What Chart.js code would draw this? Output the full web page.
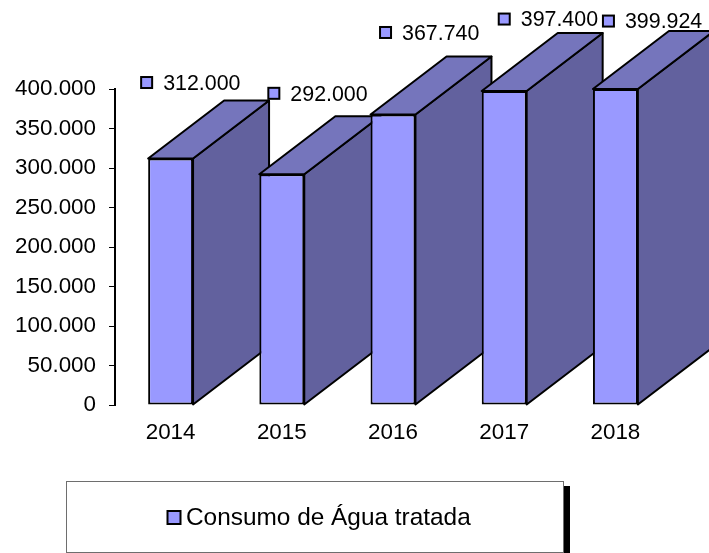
<!DOCTYPE html>
<html>
<head>
<meta charset="utf-8">
<title>Consumo de Água tratada</title>
<script src="https://cdn.jsdelivr.net/npm/chart.js@4"></script>
<style>
    html, body { margin: 0; padding: 0; background: #fff; }
    canvas { display: block; }
</style>
</head>
<body>
<canvas id="waterChart" width="709" height="553"></canvas>
<script>
const years = ['2014', '2015', '2016', '2017', '2018'];
const consumption = [312000, 292000, 367740, 397400, 399924];
const seriesName = 'Consumo de Água tratada';

// hand placed label markers in the original, relative to each bar's top left corner
const labelOffsets = [[-1.5, -76], [14.5, -81], [15, -82], [22.5, -72], [15.5, -68]];

const FONT = '"Liberation Sans", Arial, sans-serif';
const DEPTH_X = 76;
const DEPTH_Y = 58;

function formatThousands(value) {
    return String(value).replace(/\B(?=(\d{3})+$)/g, '.');
}

function fillFace(ctx, points, color) {
    ctx.beginPath();
    points.forEach((p, i) => i ? ctx.lineTo(p[0], p[1]) : ctx.moveTo(p[0], p[1]));
    ctx.closePath();
    ctx.fillStyle = color;
    ctx.fill();
    ctx.stroke();
}

function drawMarker(ctx, cx, cy, size) {
    ctx.fillStyle = '#9999ff';
    ctx.strokeStyle = '#000';
    ctx.lineWidth = 2;
    ctx.fillRect(cx - size / 2, cy - size / 2, size, size);
    ctx.strokeRect(cx - size / 2, cy - size / 2, size, size);
}

// Side and top faces of the 3D columns, painted under the library's bars
const depthFaces = {
    id: 'depthFaces',
    beforeDatasetsDraw(chart) {
        const ctx = chart.ctx;
        ctx.save();
        ctx.strokeStyle = '#000';
        ctx.lineWidth = 2;
        ctx.lineJoin = 'round';
        chart.getDatasetMeta(0).data.forEach(bar => {
            const left = bar.x - bar.width / 2;
            const right = bar.x + bar.width / 2;
            fillFace(ctx, [
                [right, bar.y], [right + DEPTH_X, bar.y - DEPTH_Y],
                [right + DEPTH_X, bar.base - DEPTH_Y], [right, bar.base]
            ], '#62619e');
            fillFace(ctx, [
                [left, bar.y], [left + DEPTH_X, bar.y - DEPTH_Y],
                [right + DEPTH_X, bar.y - DEPTH_Y], [right, bar.y]
            ], '#7575bc');
        });
        ctx.restore();
    },
    afterDatasetsDraw(chart) {
        const ctx = chart.ctx;
        ctx.save();
        ctx.font = '21.4px ' + FONT;
        ctx.textBaseline = 'middle';
        chart.getDatasetMeta(0).data.forEach((bar, i) => {
            const cx = bar.x - bar.width / 2 + labelOffsets[i][0];
            const cy = bar.y + labelOffsets[i][1];
            drawMarker(ctx, cx, cy, 11);
            ctx.fillStyle = '#000';
            ctx.fillText(formatThousands(consumption[i]), cx + 16.5, cy + 1.5);
        });
        ctx.restore();
    },
    afterDraw(chart) {
        // legend frame with its hard black shadow
        const ctx = chart.ctx;
        ctx.save();
        ctx.fillStyle = '#000';
        ctx.fillRect(564, 486, 6, 67);
        ctx.fillStyle = '#fff';
        ctx.fillRect(66.5, 481.5, 497, 71);
        ctx.strokeStyle = '#6e6e6e';
        ctx.lineWidth = 1;
        ctx.strokeRect(66.5, 481.5, 497, 71);
        drawMarker(ctx, 174, 517.5, 13);
        ctx.fillStyle = '#000';
        ctx.font = '24.4px ' + FONT;
        ctx.textBaseline = 'middle';
        ctx.fillText(seriesName, 186, 518.5);
        ctx.restore();
    }
};

const chart = new Chart(document.getElementById('waterChart').getContext('2d'), {
    type: 'bar',
    data: {
        labels: years,
        datasets: [{
            label: seriesName,
            data: consumption,
            backgroundColor: '#9999ff',
            borderColor: '#000',
            borderWidth: 2,
            borderSkipped: false,
            barPercentage: 0.404,
            categoryPercentage: 1
        }]
    },
    options: {
        responsive: false,
        animation: false,
        layout: { padding: { top: 89, right: 38, left: 0, bottom: 0 } },
        plugins: {
            legend: { display: false },
            tooltip: { enabled: false }
        },
        scales: {
            x: {
                border: { display: false },
                grid: { display: false },
                ticks: { color: '#000', font: { family: FONT, size: 22.4 }, padding: 6, maxRotation: 0 },
                afterFit(scale) { scale.height = 148; }
            },
            y: {
                min: 0,
                max: 400000,
                border: { color: '#000', width: 2 },
                grid: { drawOnChartArea: false, color: '#000', tickLength: 6, tickWidth: 1 },
                ticks: {
                    stepSize: 50000,
                    color: '#000',
                    font: { family: FONT, size: 22.4 },
                    padding: 13,
                    callback: value => formatThousands(value)
                },
                afterFit(scale) { scale.width = 115; }
            }
        }
    },
    plugins: [depthFaces]
});
</script>
</body>
</html>
